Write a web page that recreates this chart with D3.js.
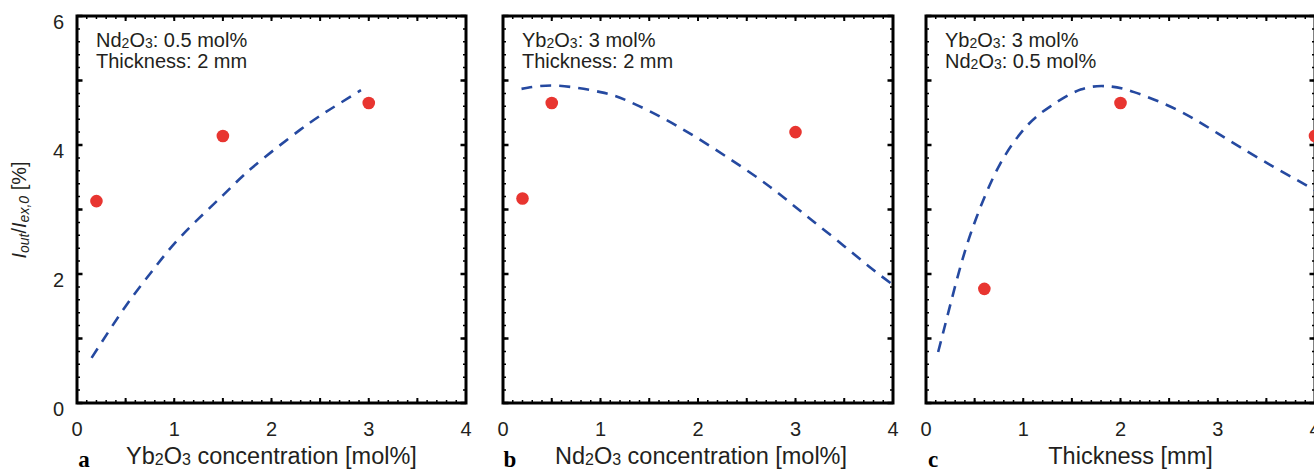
<!DOCTYPE html>
<html>
<head>
<meta charset="utf-8">
<script src="https://cdn.jsdelivr.net/npm/d3@7"></script>
<style>
  body { margin: 0; background: #fff; }
  text { font-family: "Liberation Sans", Arial, sans-serif; fill: #231f20; }
</style>
</head>
<body>
<svg id="chart" width="1314" height="471"></svg>
<script>
// measured points (red dots)
var dotsA = [[0.2, 3.13], [1.5, 4.14], [3.0, 4.65]];
var dotsB = [[0.2, 3.17], [0.5, 4.65], [3.0, 4.2]];
var dotsC = [[0.6, 1.77], [2.0, 4.65], [4.0, 4.14]];

// simulated curves (blue dashed)
var curveA = [[0.15, 0.7], [0.5, 1.5], [0.78, 2.06], [1.08, 2.6], [1.5, 3.22], [1.81, 3.66],
              [2.29, 4.23], [2.6, 4.55], [2.92, 4.85]];
var curveB = [[0.19, 4.87], [0.55, 4.92], [1.0, 4.82], [1.3, 4.67], [1.78, 4.3], [2.33, 3.78],
              [2.74, 3.35], [3.08, 2.94], [3.42, 2.53], [3.76, 2.11], [4.0, 1.83]];
var curveC = [[0.125, 0.79], [0.27, 1.64], [0.38, 2.25], [0.52, 2.88], [0.76, 3.7], [1.04, 4.3],
              [1.28, 4.6], [1.59, 4.86], [1.87, 4.91], [2.14, 4.82], [2.59, 4.54], [3.0, 4.18],
              [3.45, 3.77], [4.0, 3.3]];

var xTickLabels = [0, 1, 2, 3, 4];
var yTickLabels = [0, 2, 4, 6];

var panels = [
  {left: 77, right: 466, letter: "a", note: [["Nd", "2", "O", "3", ": 0.5 mol%"], ["Thickness: 2 mm"]],
   title: ["Yb", "2", "O", "3", " concentration [mol%]"], titleShift: 0, dots: dotsA, curve: curveA, yLabels: true},
  {left: 503, right: 893, letter: "b", note: [["Yb", "2", "O", "3", ": 3 mol%"], ["Thickness: 2 mm"]],
   title: ["Nd", "2", "O", "3", " concentration [mol%]"], titleShift: 3, dots: dotsB, curve: curveB, yLabels: false},
  {left: 926, right: 1315, letter: "c", note: [["Yb", "2", "O", "3", ": 3 mol%"], ["Nd", "2", "O", "3", ": 0.5 mol%"]],
   title: ["Thickness [mm]"], titleShift: 10, dots: dotsC, curve: curveC, yLabels: false}
];

var plotTop = 16, plotBottom = 403;
var svg = d3.select("#chart");

// write text parts; parts 1 and 3 are subscripts (chemical formulas)
function chem(sel, parts, subSize) {
  parts.forEach(function(p, i) {
    var sub = (parts.length > 1 && (i == 1 || i == 3));
    sel.append("tspan")
      .attr("font-size", sub ? subSize : null)
      .attr("dy", sub ? 1 : (i > 0 && parts.length > 1 ? -1 : 0))
      .text(p);
  });
}

panels.forEach(function(p) {
  var x = d3.scaleLinear().domain([0, 4]).range([p.left, p.right]);
  var y = d3.scaleLinear().domain([0, 6]).range([plotBottom, plotTop]);
  var g = svg.append("g");

  // ticks on all sides, pointing inward
  var xMajor = d3.range(0, 4.01, 0.5), xMinor = d3.range(0, 4.01, 0.1);
  var yMajor = d3.range(0, 6.01, 1), yMinor = d3.range(0, 6.01, 0.2);
  g.selectAll(".xminor").data(xMinor).enter().append("path")
    .attr("d", function(d){ var px = x(d); return "M"+px+","+plotBottom+"v-3M"+px+","+plotTop+"v3"; })
    .attr("stroke", "#000").attr("stroke-width", 1.5);
  g.selectAll(".xmajor").data(xMajor).enter().append("path")
    .attr("d", function(d){ var px = x(d); return "M"+px+","+plotBottom+"v-5M"+px+","+plotTop+"v5"; })
    .attr("stroke", "#000").attr("stroke-width", 2);
  g.selectAll(".yminor").data(yMinor).enter().append("path")
    .attr("d", function(d){ var py = y(d); return "M"+p.left+","+py+"h3M"+p.right+","+py+"h-3"; })
    .attr("stroke", "#000").attr("stroke-width", 1.5);
  g.selectAll(".ymajor").data(yMajor).enter().append("path")
    .attr("d", function(d){ var py = y(d); return "M"+p.left+","+py+"h5.5M"+p.right+","+py+"h-5.5"; })
    .attr("stroke", "#000").attr("stroke-width", 2.5);

  g.append("rect")
    .attr("x", p.left).attr("y", plotTop)
    .attr("width", p.right - p.left).attr("height", plotBottom - plotTop)
    .attr("fill", "none").attr("stroke", "#000").attr("stroke-width", 3);

  // tick labels
  g.selectAll(".xlab").data(xTickLabels).enter().append("text")
    .attr("x", function(d){ return x(d); }).attr("y", 436)
    .attr("text-anchor", "middle").attr("font-size", "20px")
    .text(function(d){ return d; });
  if (p.yLabels) {
    g.selectAll(".ylab").data(yTickLabels).enter().append("text")
      .attr("x", p.left - 13).attr("y", function(d){ return y(d) + 13; })
      .attr("text-anchor", "end").attr("font-size", "20px")
      .text(function(d){ return d; });
  }

  // notes in the corner
  p.note.forEach(function(line, i) {
    var t = g.append("text").attr("x", p.left + 19).attr("y", 47 + i * 21).attr("font-size", "20px");
    chem(t, line, "14px");
  });

  // axis title and panel letter
  var tt = g.append("text").attr("x", (p.left + p.right) / 2 + p.titleShift).attr("y", 464)
    .attr("text-anchor", "middle").attr("font-size", "23.5px");
  chem(tt, p.title, "16px");
  g.append("text").attr("x", p.left + 7).attr("y", 467)
    .style("font-family", "'Liberation Serif', 'DejaVu Serif', serif").attr("font-weight", "bold")
    .attr("font-size", "23px").attr("text-anchor", "middle")
    .style("fill", "#000")
    .text(p.letter);

  // dashed curve
  var line = d3.line().x(function(d){ return x(d[0]); }).y(function(d){ return y(d[1]); })
    .curve(d3.curveNatural);
  g.append("path").datum(p.curve)
    .attr("d", line)
    .attr("fill", "none").attr("stroke", "#2549a0").attr("stroke-width", 2.6)
    .attr("stroke-dasharray", "11,8");

  // dots
  g.selectAll(".dot").data(p.dots).enter().append("circle")
    .attr("cx", function(d){ return x(d[0]); })
    .attr("cy", function(d){ return y(d[1]); })
    .attr("r", 6.3).attr("fill", "#e83530");
});

// y axis title
var yt = svg.append("text")
  .attr("transform", "translate(26,210) rotate(-90)")
  .attr("text-anchor", "middle").attr("font-size", "20px");
yt.append("tspan").attr("font-style", "italic").text("I");
yt.append("tspan").attr("font-style", "italic").attr("font-size", "14px").attr("dy", 3).text("out");
yt.append("tspan").attr("dy", -3).text("/");
yt.append("tspan").attr("font-style", "italic").text("I");
yt.append("tspan").attr("font-style", "italic").attr("font-size", "14px").attr("dy", 3).text("ex,0");
yt.append("tspan").attr("dy", -3).text(" [%]");
</script>
</body>
</html>
